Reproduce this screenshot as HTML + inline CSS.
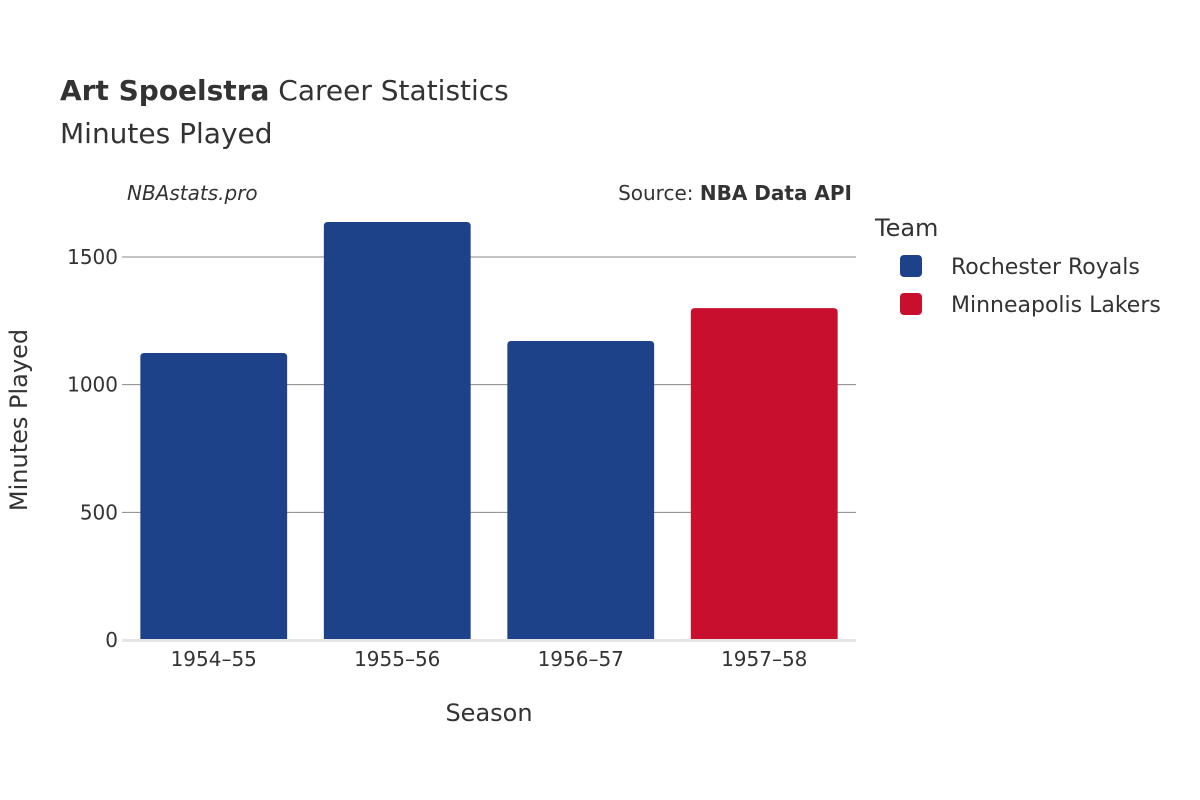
<!DOCTYPE html>
<html><head><meta charset="utf-8">
<style>
body{margin:0;background:#fff;}
svg{display:block;font-family:"DejaVu Sans","Liberation Sans",sans-serif;}
</style></head>
<body>
<svg id="chart" width="1200" height="800" viewBox="0 0 1200 800">
  <rect width="1200" height="800" fill="#fff"/>
  <text x="60" y="100" font-size="28" fill="#333"><tspan font-weight="bold">Art Spoelstra</tspan> Career Statistics</text>
  <text x="60" y="143" font-size="28" fill="#333">Minutes Played</text>
  <text x="127" y="200" font-size="20" font-style="italic" fill="#333">NBAstats.pro</text>
  <text x="852" y="200" font-size="20" fill="#333" text-anchor="end">Source: <tspan font-weight="bold">NBA Data API</tspan></text>
  <g id="grid"></g>
  <g id="bars"></g>
  <g id="xticks"></g>
  <rect x="122" y="639" width="734" height="3" fill="#e5e5e5"/>
  <text x="489" y="721" font-size="24" fill="#333" text-anchor="middle">Season</text>
  <text transform="translate(27,420) rotate(-90)" font-size="24" fill="#333" text-anchor="middle">Minutes Played</text>
  <text x="875" y="236" font-size="24" fill="#333">Team</text>
  <g>
    <rect x="900" y="255" width="22" height="22" rx="4" fill="#1d428a"/>
    <text x="951" y="274" font-size="22" fill="#333">Rochester Royals</text>
  </g>
  <g>
    <rect x="900" y="293" width="22" height="22" rx="4" fill="#c8102e"/>
    <text x="951" y="312" font-size="22" fill="#333">Minneapolis Lakers</text>
  </g>
</svg>
<script>
const seasons = ["1954\u201355","1955\u201356","1956\u201357","1957\u201358"];
const minutes = [1124, 1637, 1171, 1300];
const teams = ["Rochester Royals","Rochester Royals","Rochester Royals","Minneapolis Lakers"];
const yTicks = [0, 500, 1000, 1500];
const colors = {"Rochester Royals":"#1d428a","Minneapolis Lakers":"#c8102e"};
const NS = "http://www.w3.org/2000/svg";
const x0 = 122, x1 = 856, yBase = 640, yPerUnit = 383/1500;
const yScale = v => yBase - v*yPerUnit;
const band = (x1-x0)/seasons.length;
const grid = document.getElementById('grid');
yTicks.forEach(t => {
  const y = yScale(t);
  if (t > 0) {
    const l = document.createElementNS(NS,'line');
    l.setAttribute('x1',x0); l.setAttribute('x2',x1);
    l.setAttribute('y1',y); l.setAttribute('y2',y);
    l.setAttribute('stroke','#888'); l.setAttribute('stroke-width','1');
    
    
    grid.appendChild(l);
  }
  const tx = document.createElementNS(NS,'text');
  tx.setAttribute('x',x0-4); tx.setAttribute('y',y+7);
  tx.setAttribute('font-size','20'); tx.setAttribute('fill','#333');
  tx.setAttribute('text-anchor','end');
  tx.textContent = t;
  
  
  grid.appendChild(tx);
});
const bars = document.getElementById('bars');
const xt = document.getElementById('xticks');
seasons.forEach((s,i) => {
  const cx = x0 + band*(i+0.5);
  const w = band*0.8;
  const top = yScale(minutes[i]);
  const r = document.createElementNS(NS,'path');
  const xl = cx-w/2, xr = cx+w/2, rad = 4;
  r.setAttribute('d',`M${xl},${yBase} L${xl},${top+rad} Q${xl},${top} ${xl+rad},${top} L${xr-rad},${top} Q${xr},${top} ${xr},${top+rad} L${xr},${yBase} Z`);
  r.setAttribute('fill',colors[teams[i]]);
  
  
  bars.appendChild(r);
  const tx = document.createElementNS(NS,'text');
  tx.setAttribute('x',cx); tx.setAttribute('y',666);
  tx.setAttribute('font-size','20'); tx.setAttribute('fill','#333');
  tx.setAttribute('text-anchor','middle');
  tx.textContent = s;
  
  
  xt.appendChild(tx);
});
</script>
</body></html>
